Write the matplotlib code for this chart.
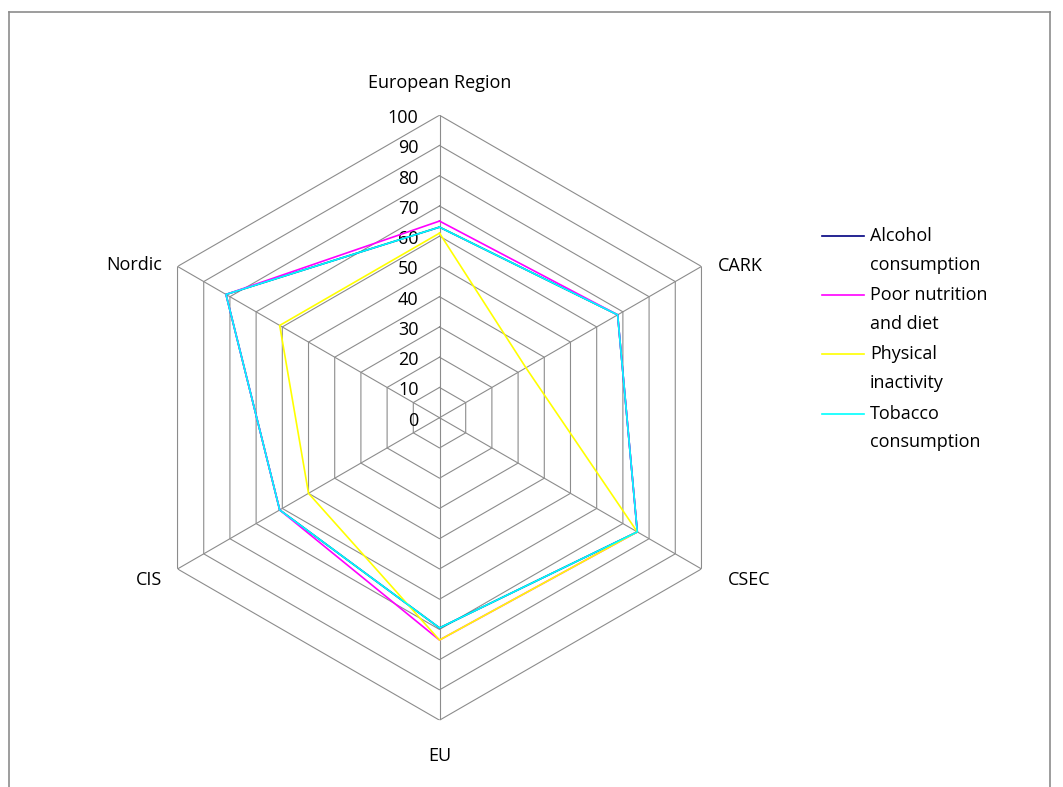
import numpy as np
import matplotlib.pyplot as plt
from matplotlib.lines import Line2D

plt.rcParams['font.family'] = ['Open Sans', 'DejaVu Sans']

# ------------------------------------------------------------
# Data: share of population (%) by sub-region and risk factor
# ------------------------------------------------------------
categories = ['European Region', 'CARK', 'CSEC', 'EU', 'CIS', 'Nordic']
series_names = ['Alcohol\nconsumption', 'Poor nutrition\nand diet',
                'Physical\ninactivity', 'Tobacco\nconsumption']
alcohol = [63, 68, 75.5, 69.5, 61, 81.5]
nutrition = [65, 68, 75.5, 73.5, 61, 81.5]
inactivity = [61, 33, 75.5, 73.5, 50, 61]
tobacco = [63, 68, 75.5, 69.5, 61, 81.5]
series_values = [alcohol, nutrition, inactivity, tobacco]
series_colors = ['#000080', '#ff00ff', '#ffff00', '#00ffff']
ring_levels = list(range(0, 101, 10))

GRID = '#8c8c8c'
FS = 13
W, H = 1063, 787

fig = plt.figure(figsize=(W / 100, H / 100), dpi=100)

# polar axes centred on the hexagon, radius 302 px
cx, cy, R = 439.5, 417.7, 302.5
ax = fig.add_axes([(cx - R) / W, (H - cy - R) / H, 2 * R / W, 2 * R / H],
                  projection='polar')
ax.set_theta_offset(np.pi / 2)
ax.set_theta_direction(-1)
ax.set_ylim(0, 100)
ax.grid(False)
ax.spines['polar'].set_visible(False)
ax.set_xticks([])
ax.set_yticks([])
ax.patch.set_visible(False)

n = len(categories)
theta = np.arange(n) * 2 * np.pi / n
theta_closed = np.append(theta, theta[0])

# hexagonal rings and spokes
for lvl in ring_levels[1:]:
    ax.plot(theta_closed, [lvl] * (n + 1), color=GRID, lw=0.8, zorder=1)
for t in theta:
    ax.plot([t, t], [0, 100], color=GRID, lw=0.8, zorder=1)

# radial scale labels along the top spoke
for lvl in ring_levels:
    ax.annotate(str(lvl), xy=(0, lvl), xytext=(-21, -3), textcoords='offset pixels',
                ha='right', va='center', fontsize=FS, color='#000000')

# category labels
label_offsets = [(0, 32), (16, 0), (26, -11), (0, -36), (-15, -11), (-15, 1)]
label_ha = ['center', 'left', 'left', 'center', 'right', 'right']
for t, name, off, ha in zip(theta, categories, label_offsets, label_ha):
    ax.annotate(name, xy=(t, 100), xytext=off, textcoords='offset pixels',
                ha=ha, va='center', fontsize=FS, color='#000000')

# data series
for vals, col in zip(series_values, series_colors):
    ax.plot(theta_closed, vals + vals[:1], color=col, lw=1.2, zorder=3)

# legend, handle aligned with the first text line
leg_y0, leg_step = 236, 59.2
for i, (name, col) in enumerate(zip(series_names, series_colors)):
    y = 1 - (leg_y0 + i * leg_step) / H
    fig.add_artist(Line2D([822 / W, 864 / W], [y, y], color=col, lw=1.2,
                          transform=fig.transFigure))
    fig.text(870 / W, y + 9 / H, name, ha='left', va='top', fontsize=FS,
             linespacing=1.75, color='#000000')

# chart-area border
left, right, top = 8.5 / W, 1049.5 / W, 1 - 12 / H
for xs, ys in [([left, left], [top, 0]), ([left, right], [top, top]),
               ([right, right], [top, 0])]:
    fig.add_artist(Line2D(xs, ys, color='#8c8c8c', lw=1.2, transform=fig.transFigure))

fig.savefig('out.png', dpi=100)
